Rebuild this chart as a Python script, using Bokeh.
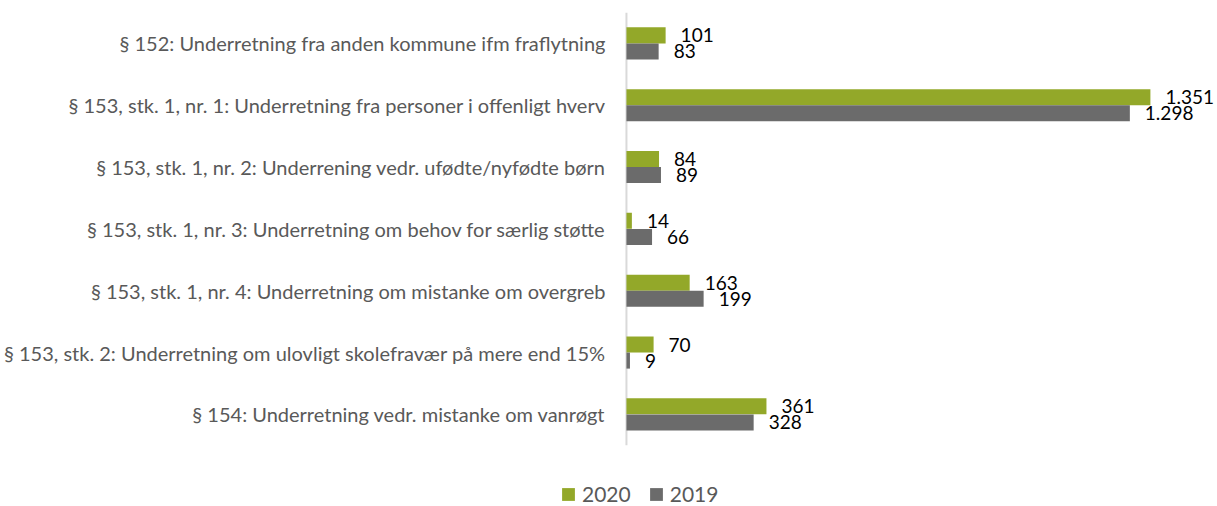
from bokeh.plotting import figure
from bokeh.models import ColumnDataSource, Legend, LegendItem, Range1d
from bokeh.transform import dodge
from bokeh.embed import file_html
from bokeh.resources import INLINE
from bokeh.core.properties import value

categories = [
    "§ 152: Underretning fra anden kommune ifm fraflytning",
    "§ 153, stk. 1, nr. 1: Underretning fra personer i offenligt hverv",
    "§ 153, stk. 1, nr. 2: Underrening vedr. ufødte/nyfødte børn",
    "§ 153, stk. 1, nr. 3: Underretning om behov for særlig støtte",
    "§ 153, stk. 1, nr. 4: Underretning om mistanke om overgreb",
    "§ 153, stk. 2: Underretning om ulovligt skolefravær på mere end 15%",
    "§ 154: Underretning vedr. mistanke om vanrøgt",
]
values_2020 = [101, 1351, 84, 14, 163, 70, 361]
values_2019 = [83, 1298, 89, 66, 199, 9, 328]

n = len(categories)

def fmt(v):
    return f"{v:,}".replace(",", ".")

src = ColumnDataSource(dict(
    cat=categories,
    pos=[n - 1 - i for i in range(n)],
    zero=[0] * n,
    v2020=values_2020,
    v2019=values_2019,
    l2020=[fmt(v) for v in values_2020],
    l2019=[fmt(v) for v in values_2019],
))
axis_src = ColumnDataSource(dict(x=[0, 0], y=[-0.5, n - 0.5]))

GREEN = "#93A829"
GRAY = "#6B6B6B"
FONT = "Lato"

p = figure(
    width=1217, height=506,
    x_range=Range1d(-1614, 1524),
    y_range=Range1d(-1.49, n - 0.5),
    output_backend="svg", toolbar_location=None,
    min_border_left=0, min_border_right=0, min_border_top=12, min_border_bottom=0,
)
p.outline_line_color = None
p.xgrid.grid_line_color = None
p.ygrid.grid_line_color = None
p.xaxis.visible = False
p.yaxis.visible = False

# category axis line
p.line(x="x", y="y", source=axis_src, line_color="#D9D9D9", line_width=2)

g = p.hbar(y=dodge("pos", 0.13), right="v2020", left=0, height=0.259,
           source=src, fill_color=GREEN, line_color=None)
r = p.hbar(y=dodge("pos", -0.13), right="v2019", left=0, height=0.259,
           source=src, fill_color=GRAY, line_color=None)

# category labels
p.text(x="zero", y="pos", text="cat", source=src, x_offset=-21,
       text_baseline="middle", text_align="right",
       text_font=value(FONT), text_font_size="20px", text_color="#595959")

p.text(x="v2020", y=dodge("pos", 0.13), text="l2020", source=src,
       x_offset=15, text_baseline="middle", text_align="left",
       text_font=value(FONT), text_font_size="19px", text_color="#000000")
p.text(x="v2019", y=dodge("pos", -0.13), text="l2019", source=src,
       x_offset=15, text_baseline="middle", text_align="left",
       text_font=value(FONT), text_font_size="19px", text_color="#000000")

legend = Legend(items=[LegendItem(label="2020", renderers=[g]),
                       LegendItem(label="2019", renderers=[r])],
                orientation="horizontal", location=(560, 0),
                label_text_font=FONT, label_text_font_size="21px",
                label_text_color="#595959", glyph_width=16, glyph_height=16,
                padding=0, margin=0, spacing=17, label_standoff=6,
                border_line_color=None, background_fill_alpha=0)
p.add_layout(legend, "center")

open("out.html", "w").write(file_html(p, INLINE))
